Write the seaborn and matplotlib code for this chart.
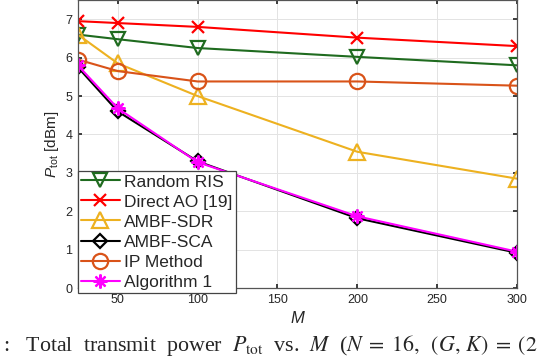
import matplotlib
matplotlib.use("Agg")
import matplotlib.pyplot as plt
import seaborn as sns
import pandas as pd

# =======================
# data
# =======================
M = [25, 50, 100, 200, 300]
random_ris = [6.60, 6.48, 6.25, 6.02, 5.80]
direct_ao = [6.95, 6.90, 6.80, 6.52, 6.30]
ambf_sdr = [6.60, 5.85, 5.00, 3.55, 2.85]
ambf_sca = [5.75, 4.60, 3.30, 1.82, 0.92]
ip_method = [5.95, 5.65, 5.38, 5.38, 5.27]
algorithm1 = [5.80, 4.68, 3.28, 1.87, 0.95]

labels = ["Random RIS", "Direct AO [19]", "AMBF-SDR", "AMBF-SCA", "IP Method", "Algorithm 1"]
series = [random_ris, direct_ao, ambf_sdr, ambf_sca, ip_method, algorithm1]
colors = ["#1f6b1f", "#ff0000", "#edb120", "#000000", "#d95319", "#ff00ff"]
markers = ["v", "x", "^", "D", "o", (8, 2, 0)]
msizes = [10, 8, 11, 7, 11, 10]

sns.set_theme(style="whitegrid")
plt.rcParams["font.family"] = ["Liberation Sans", "DejaVu Sans"]
plt.rcParams["mathtext.fontset"] = "custom"
plt.rcParams["mathtext.it"] = "Liberation Sans:italic"
plt.rcParams["mathtext.rm"] = "Liberation Sans"

fig = plt.figure(figsize=(5.56, 3.58), dpi=100)
ax = fig.add_axes([0.140, 0.195, 0.790, 0.805])

for lab, vals, c, m, ms in zip(labels, series, colors, markers, msizes):
    df = pd.DataFrame({"M": M, "P": vals})
    sns.lineplot(data=df, x="M", y="P", ax=ax, color=c, marker=m, markersize=ms,
                 markerfacecolor="none", markeredgecolor=c, markeredgewidth=1.6,
                 linewidth=1.5, label=lab)

ax.set_xlim(25, 300)
ax.set_ylim(0, 7.5)
ax.set_xticks([50, 100, 150, 200, 250, 300])
ax.set_yticks([0, 1, 2, 3, 4, 5, 6, 7])
ax.tick_params(labelsize=9, colors="#262626", direction="in", length=3, pad=4,
               top=True, right=True, bottom=True, left=True)
ax.grid(True, color="#e3e3e3", linewidth=0.7)
for s in ax.spines.values():
    s.set_color("#555555")
    s.set_linewidth(0.9)

ax.set_xlabel("$M$", fontsize=12, labelpad=3)
ax.set_ylabel(r"$P_{\mathrm{tot}}$ [dBm]", fontsize=11, labelpad=3)

leg = ax.legend(loc="lower left", bbox_to_anchor=(0, -0.017), fontsize=12.5, frameon=True,
                fancybox=False, handlelength=2.2, handletextpad=0.25, labelspacing=0.28,
                borderpad=0.2, borderaxespad=0.0, framealpha=1)
leg.get_frame().set_edgecolor("#444444")
leg.get_frame().set_linewidth(0.9)

fig.text(0.006, 0.019,
         r":   Total  transmit  power  $P_{\mathrm{tot}}$  vs.  $M$  ($N\;=\;16,\;\;(G,\,K)\;=\;(2$",
         fontsize=15.8, family=["Liberation Serif", "DejaVu Serif"], math_fontfamily="stix",
         ha="left", va="baseline")

fig.savefig("out.png", dpi=100)
